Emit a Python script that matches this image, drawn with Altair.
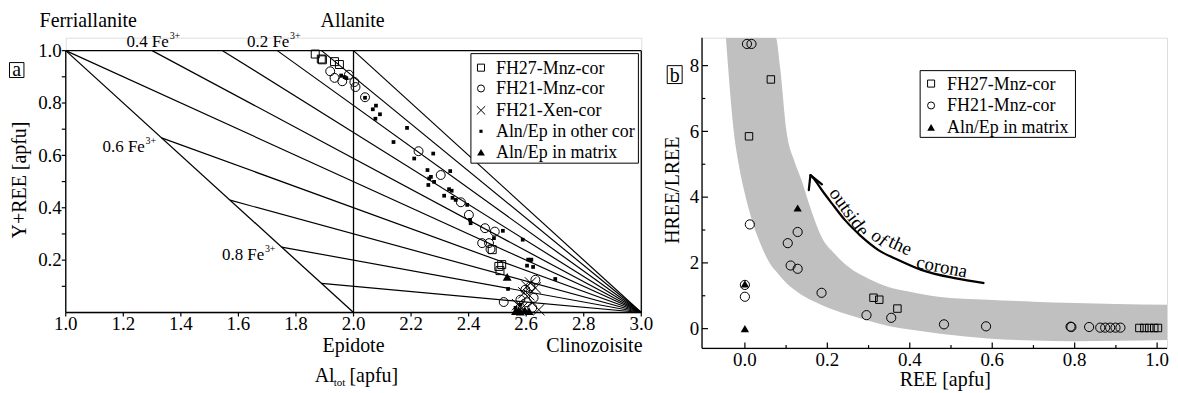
import altair as alt
import pandas as pd

FONT = "Liberation Serif"
INK = "black"

# ================= panel a : Al_tot vs Y+REE =================
a_fh27_x = [1.867, 1.888, 1.892, 1.934, 1.951, 2.482, 2.505, 2.509, 2.515]
a_fh27_y = [0.987, 0.968, 0.965, 0.958, 0.947, 0.240, 0.176, 0.160, 0.183]

a_fh21_x = [1.919, 1.934, 1.961, 1.984, 2.003, 2.007, 2.040, 2.226, 2.303, 2.373, 2.401, 2.457,
            2.491, 2.471, 2.447, 2.476, 2.632, 2.597, 2.580, 2.626, 2.522, 2.615, 2.621, 2.603]
a_fh21_y = [0.921, 0.896, 0.883, 0.908, 0.880, 0.861, 0.822, 0.616, 0.525, 0.421, 0.373, 0.322,
            0.309, 0.265, 0.265, 0.242, 0.125, 0.087, 0.049, 0.056, 0.040, 0.100, 0.018, 0.039]

a_xen_x = [2.603, 2.632, 2.592, 2.609, 2.644, 2.586, 2.615, 2.570]
a_xen_y = [0.100, 0.094, 0.075, 0.068, 0.011, 0.018, 0.113, 0.030]

a_other_x = [1.957, 1.969, 1.975, 2.040, 2.078, 2.067, 2.092, 2.076, 2.186, 2.139, 2.211, 2.277,
             2.257, 2.269, 2.263, 2.280, 2.260, 2.336, 2.332, 2.341, 2.315, 2.344, 2.355, 2.395,
             2.405, 2.407, 2.488, 2.519, 2.588, 2.607, 2.618, 2.603, 2.624, 2.615, 2.701, 2.537,
             2.580, 2.563]
a_other_y = [0.905, 0.899, 0.895, 0.820, 0.790, 0.776, 0.757, 0.740, 0.705, 0.651, 0.588, 0.607,
             0.544, 0.518, 0.512, 0.499, 0.487, 0.540, 0.471, 0.465, 0.446, 0.438, 0.430, 0.411,
             0.354, 0.341, 0.284, 0.312, 0.278, 0.202, 0.202, 0.179, 0.174, 0.199, 0.128, 0.090,
             0.030, 0.018]

a_matrix_x = [2.534, 2.563, 2.574, 2.580, 2.595, 2.610]
a_matrix_y = [0.136, 0.005, 0.009, 0.003, 0.009, 0.005]

# Fe3+ iso-lines, all converging at clinozoisite (3.0, 0)
fan_x = [1.889, 1.750, 1.571, 1.333, 1.000, 1.300, 1.545, 1.735, 1.889, 2.000]
fan_y = [0.111, 0.250, 0.429, 0.667, 1.000, 1.000, 1.000, 1.000, 1.000, 1.000]
fan_end_x = 3.0
fan_end_y = 0.0

# frame and end-member joins
seg_x1 = [1.0, 1.0, 1.0, 3.0, 2.0, 1.0]
seg_y1 = [1.0, 0.0, 0.0, 0.0, 0.0, 1.0]
seg_x2 = [3.0, 3.0, 1.0, 3.0, 2.0, 2.0]
seg_y2 = [1.0, 0.0, 1.0, 1.0, 1.0, 0.0]

a_xticks = [1.0, 1.2, 1.4, 1.6, 1.8, 2.0, 2.2, 2.4, 2.6, 2.8, 3.0]
a_xlabels = ["1.0", "1.2", "1.4", "1.6", "1.8", "2.0", "2.2", "2.4", "2.6", "2.8", "3.0"]
a_yticks = [0.1, 0.2, 0.3, 0.4, 0.5, 0.6, 0.7, 0.8, 0.9, 1.0]
a_ylabel_vals = [0.2, 0.4, 0.6, 0.8, 1.0]
a_ylabels = ["0.2", "0.4", "0.6", "0.8", "1.0"]

legend_a_labels = ["FH27-Mnz-cor", "FH21-Mnz-cor", "FH21-Xen-cor", "Aln/Ep in other cor", "Aln/Ep in matrix"]

# ================= panel b : REE vs HREE/LREE =================
b_fh27_x = [0.010, 0.063, 0.312, 0.326, 0.370, 0.957, 0.969, 0.981, 0.993, 1.002]
b_fh27_y = [5.85, 7.58, 0.94, 0.88, 0.61, 0.02, 0.02, 0.02, 0.02, 0.02]

b_fh21_x = [0.005, 0.016, 0.012, 0.000, 0.000, 0.104, 0.128, 0.111, 0.128, 0.186, 0.295, 0.355,
            0.483, 0.585, 0.790, 0.792, 0.835, 0.862, 0.874, 0.886, 0.899, 0.911]
b_fh21_y = [8.66, 8.66, 3.17, 1.33, 0.97, 2.60, 2.94, 1.92, 1.82, 1.09, 0.41, 0.33,
            0.13, 0.07, 0.06, 0.05, 0.05, 0.03, 0.03, 0.03, 0.03, 0.03]

b_matrix_x = [0.000, 0.000, 0.128]
b_matrix_y = [1.36, 0.00, 3.67]

band_x = [-0.046, -0.041, -0.027, -0.015, 0.000, 0.017, 0.034, 0.060, 0.075, 0.085, 0.101, 0.120,
          0.138, 0.155, 0.186, 0.220, 0.251, 0.300, 0.348, 0.400, 0.469, 0.589, 0.700, 0.800,
          0.900, 1.043]
band_lo = [8.85, 8.00, 6.00, 5.00, 4.10, 3.30, 2.70, 2.00, 1.75, 1.60, 1.38, 1.18,
           1.02, 0.90, 0.72, 0.55, 0.42, 0.24, 0.08, -0.03, -0.15, -0.30, -0.36, -0.38,
           -0.37, -0.34]
band_hi = [8.85, 8.85, 8.85, 8.85, 8.85, 8.85, 8.85, 8.85, 8.85, 8.00, 6.00, 5.10,
           4.50, 3.82, 2.79, 2.25, 1.88, 1.52, 1.27, 1.12, 0.97, 0.88, 0.82, 0.78,
           0.75, 0.72]

arrow_x = [0.581, 0.509, 0.428, 0.372, 0.324, 0.283, 0.243, 0.211, 0.187, 0.167, 0.159]
arrow_y = [1.384, 1.535, 1.788, 2.090, 2.390, 2.800, 3.300, 3.810, 4.210, 4.570, 4.670]
head_wing_x = [0.155, 0.187]
head_wing_y = [4.21, 4.39]

arrow_words = ["outside", "of", "the", "corona"]
arrow_word_x = [0.2532, 0.327, 0.377, 0.478]
arrow_word_y = [3.55, 2.76, 2.53, 1.88]
arrow_word_angle = [54, 38, 25, 11]

b_xmajor = [0.0, 0.2, 0.4, 0.6, 0.8, 1.0]
b_xlabels = ["0.0", "0.2", "0.4", "0.6", "0.8", "1.0"]
b_xminor = [0.1, 0.3, 0.5, 0.7, 0.9]
b_ymajor = [0, 2, 4, 6, 8]
b_ylabels = ["0", "2", "4", "6", "8"]
b_yminor = [1, 3, 5, 7]

legend_b_labels = ["FH27-Mnz-cor", "FH21-Mnz-cor", "Aln/Ep in matrix"]

XPATH = "M-1,-1L1,1M-1,1L1,-1"

# ---------------- scales ----------------
XB_MAX = 1.024
xa = alt.Scale(domain=[1.0, 3.0], nice=False, zero=False)
ya = alt.Scale(domain=[0.0, 1.0494], nice=False, zero=False)
xb = alt.Scale(domain=[-0.104, XB_MAX], nice=False, zero=False)
yb = alt.Scale(domain=[-0.6, 8.85], nice=False, zero=False)


def pts(xs, ys, shape, filled, size, sx, sy, sw=1.0):
    df = pd.DataFrame({"x": xs, "y": ys})
    return alt.Chart(df).mark_point(shape=shape, filled=filled, size=size, color=INK,
                                    strokeWidth=sw, opacity=1).encode(
        x=alt.X("x:Q", scale=sx, axis=None), y=alt.Y("y:Q", scale=sy, axis=None))


def texts(xs, ys, labels, sx, sy, fs, align="left", angle=0, baseline="alphabetic"):
    df = pd.DataFrame({"x": xs, "y": ys, "t": labels})
    return alt.Chart(df).mark_text(font=FONT, fontSize=fs, align=align, baseline=baseline,
                                   angle=angle, color=INK).encode(
        x=alt.X("x:Q", scale=sx, axis=None), y=alt.Y("y:Q", scale=sy, axis=None), text="t:N")


def box(x1, x2, y1, y2, sx, sy, fill="white"):
    df = pd.DataFrame({"x": [x1], "x2": [x2], "y": [y1], "y2": [y2]})
    return alt.Chart(df).mark_rect(fill=fill, stroke=INK, strokeWidth=1).encode(
        x=alt.X("x:Q", scale=sx, axis=None), x2="x2:Q",
        y=alt.Y("y:Q", scale=sy, axis=None), y2="y2:Q")


def segs(x1, y1, x2, y2, sx, sy, sw=1.2):
    df = pd.DataFrame({"x": x1, "y": y1, "x2": x2, "y2": y2})
    return alt.Chart(df).mark_rule(color=INK, strokeWidth=sw).encode(
        x=alt.X("x:Q", scale=sx, axis=None), y=alt.Y("y:Q", scale=sy, axis=None),
        x2="x2:Q", y2="y2:Q")


# ================= build panel a =================
frame = segs(seg_x1, seg_y1, seg_x2, seg_y2, xa, ya, 1.3)
fan = segs(fan_x, fan_y, [fan_end_x] * len(fan_x), [fan_end_y] * len(fan_x), xa, ya, 1.2)

# outward ticks (4 px)
tick_a_x = segs(a_xticks, [0.0] * len(a_xticks), a_xticks, [-0.0152] * len(a_xticks), xa, ya, 1.2)
tick_a_y = segs([1.0] * len(a_yticks), a_yticks, [0.9862] * len(a_yticks), a_yticks, xa, ya, 1.2)

layers_a = [frame, fan, tick_a_x, tick_a_y,
            texts(a_xticks, [-0.067] * len(a_xticks), a_xlabels, xa, ya, 19, align="center"),
            texts([0.9862] * len(a_ylabel_vals), [v - 0.024 for v in a_ylabel_vals], a_ylabels,
                  xa, ya, 19, align="right"),
            pts(a_other_x, a_other_y, "square", True, 14, xa, ya),
            pts(a_fh27_x, a_fh27_y, "square", False, 64, xa, ya),
            pts(a_fh21_x, a_fh21_y, "circle", False, 80, xa, ya),
            pts(a_xen_x, a_xen_y, XPATH, False, 130, xa, ya),
            pts(a_matrix_x, a_matrix_y, "triangle-up", True, 80, xa, ya)]

# legend a
la_sym_x = 2.443
la_txt_x = 2.495
la_sym_y = [0.935, 0.8555, 0.772, 0.692, 0.612]
la_txt_y = [0.9125, 0.8327, 0.749, 0.669, 0.589]
layers_a += [box(2.408, 2.990, 0.9886, 0.5703, xa, ya),
             pts([la_sym_x], [la_sym_y[0]], "square", False, 50, xa, ya),
             pts([la_sym_x], [la_sym_y[1]], "circle", False, 50, xa, ya),
             pts([la_sym_x], [la_sym_y[2]], XPATH, False, 70, xa, ya),
             pts([la_sym_x], [la_sym_y[3]], "square", True, 10, xa, ya),
             pts([la_sym_x], [la_sym_y[4]], "triangle-up", True, 60, xa, ya),
             texts([la_txt_x] * 5, la_txt_y, legend_a_labels, xa, ya, 18)]

# annotations a
layers_a += [
    texts([1.078, 1.997], [1.092, 1.092], ["Ferriallanite", "Allanite"], xa, ya, 20, align="center"),
    texts([2.0, 2.837], [-0.152, -0.152], ["Epidote", "Clinozoisite"], xa, ya, 20, align="center"),
    texts([1.865, 1.986], [-0.266, -0.266], ["Al", "[apfu]"], xa, ya, 20),
    texts([1.931], [-0.281], ["tot"], xa, ya, 11),
    texts([1.211, 1.630, 1.128, 1.543], [1.013, 1.013, 0.613, 0.2015],
          ["0.4 Fe", "0.2 Fe", "0.6 Fe", "0.8 Fe"], xa, ya, 17),
    texts([1.361, 1.779, 1.277, 1.692], [1.044, 1.044, 0.644, 0.2325], ["3+", "3+", "3+", "3+"], xa, ya, 10),
    texts([0.8426], [0.506], ["Y+REE [apfu]"], xa, ya, 20, align="center", angle=270, baseline="middle"),
    box(0.8045, 0.8547, 0.9544, 0.8973, xa, ya),
    texts([0.8296], [0.905], ["a"], xa, ya, 20, align="center"),
]

left = alt.layer(*layers_a).properties(width=578, height=276)

# ================= build panel b =================
band_df = pd.DataFrame({"x": band_x, "lo": band_lo, "hi": band_hi})
band = alt.Chart(band_df).mark_area(color="#c0c0c0", opacity=1, interpolate="monotone", clip=True).encode(
    x=alt.X("x:Q", scale=xb, axis=None),
    y=alt.Y("lo:Q", scale=yb, axis=None),
    y2="hi:Q")

ytop = -0.6
xleft = -0.104
axes_b = segs([xleft, xleft], [ytop, ytop], [xleft, XB_MAX], [8.85, ytop], xb, yb, 1.3)
ticks_b = [
    segs(b_xmajor, [ytop] * 6, b_xmajor, [ytop + 0.18] * 6, xb, yb),
    segs(b_xminor, [ytop] * 5, b_xminor, [ytop + 0.10] * 5, xb, yb),
    segs([xleft] * 5, b_ymajor, [xleft + 0.0145] * 5, b_ymajor, xb, yb),
    segs([xleft] * 4, b_yminor, [xleft + 0.008] * 4, b_yminor, xb, yb),
]

arrow_df = pd.DataFrame({"x": arrow_x, "y": arrow_y, "i": list(range(len(arrow_x)))})
arrow = alt.Chart(arrow_df).mark_line(color=INK, strokeWidth=2.2, interpolate="monotone").encode(
    x=alt.X("x:Q", scale=xb, axis=None), y=alt.Y("y:Q", scale=yb, axis=None), order="i:Q")
head_df = pd.DataFrame({"x": [arrow_x[-1]] * 2, "y": [arrow_y[-1]] * 2, "x2": head_wing_x, "y2": head_wing_y})
head = alt.Chart(head_df).mark_rule(color=INK, strokeWidth=2.2, strokeCap="round").encode(
    x=alt.X("x:Q", scale=xb, axis=None), y=alt.Y("y:Q", scale=yb, axis=None), x2="x2:Q", y2="y2:Q")

word_layers = [texts([arrow_word_x[i]], [arrow_word_y[i]], [arrow_words[i]], xb, yb, 19,
                     align="center", angle=arrow_word_angle[i], baseline="middle")
               for i in range(len(arrow_words))]

lb_sym_x = 0.4517
lb_txt_x = 0.4903
lb_sym_y = [7.4545, 6.788, 6.121]
lb_txt_y = [7.273, 6.606, 5.939]

layers_b = [band, axes_b] + ticks_b + [
    texts(b_xmajor, [-1.142] * 6, b_xlabels, xb, yb, 19, align="center"),
    texts([-0.111] * 5, [v - 0.19 for v in b_ymajor], b_ylabels, xb, yb, 19, align="right"),
    arrow, head] + word_layers + [
    pts(b_fh27_x, b_fh27_y, "square", False, 56, xb, yb),
    pts(b_fh21_x, b_fh21_y, "circle", False, 85, xb, yb),
    pts(b_matrix_x, b_matrix_y, "triangle-up", True, 70, xb, yb),
    box(0.4251, 0.8019, 7.848, 5.818, xb, yb),
    pts([lb_sym_x], [lb_sym_y[0]], "square", False, 50, xb, yb),
    pts([lb_sym_x], [lb_sym_y[1]], "circle", False, 50, xb, yb),
    pts([lb_sym_x], [lb_sym_y[2]], "triangle-up", True, 60, xb, yb),
    texts([lb_txt_x] * 3, lb_txt_y, legend_b_labels, xb, yb, 18),
    texts([-0.174], [4.21], ["HREE/LREE"], xb, yb, 20, align="center", angle=270, baseline="middle"),
    texts([0.486], [-1.758], ["REE [apfu]"], xb, yb, 20, align="center"),
    box(-0.1884, -0.1522, 8.0, 7.455, xb, yb),
    texts([-0.1703], [7.515], ["b"], xb, yb, 20, align="center"),
]

right = alt.layer(*layers_b).properties(width=467, height=312)

chart = alt.hconcat(left, right, spacing=8).properties(
    padding={"left": 0, "top": 1, "right": 0, "bottom": 0}
).configure_view(stroke=None).configure(font=FONT)

chart.save("out.html", embed_options={"renderer": "svg", "actions": False})
